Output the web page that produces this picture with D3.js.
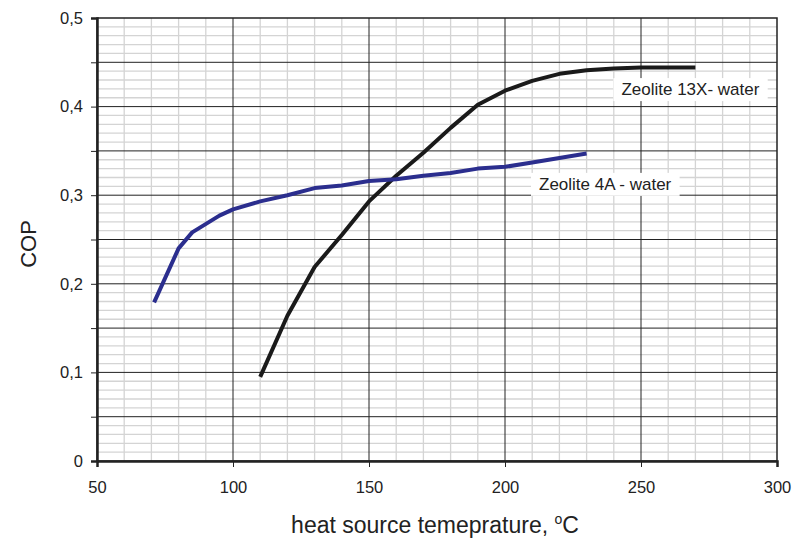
<!DOCTYPE html>
<html>
<head>
<meta charset="utf-8">
<script src="https://cdn.jsdelivr.net/npm/d3@7"></script>
<style>
  body { margin: 0; background: #fff; }
  text { font-family: "Liberation Sans", Arial, sans-serif; fill: #222; }
</style>
</head>
<body>
<svg id="chart" width="792" height="539"></svg>
<script>
// data
const temp13X = [110, 120, 130, 140, 150, 160, 170, 180, 190, 200, 210, 220, 230, 240, 250, 260, 270];
const cop13X  = [0.095, 0.164, 0.219, 0.255, 0.293, 0.322, 0.348, 0.376, 0.402, 0.418, 0.429, 0.437, 0.441, 0.443, 0.444, 0.444, 0.444];
const temp4A  = [71, 80, 85, 95, 100, 110, 120, 130, 140, 150, 160, 170, 180, 190, 200, 210, 220, 230];
const cop4A   = [0.179, 0.240, 0.258, 0.277, 0.284, 0.293, 0.300, 0.308, 0.311, 0.316, 0.318, 0.322, 0.325, 0.330, 0.332, 0.337, 0.342, 0.347];
const xTicks = [50, 100, 150, 200, 250, 300];
const yTicks = [0, 0.1, 0.2, 0.3, 0.4, 0.5];

const svg = d3.select("#chart");
const margin = {left: 97, top: 18, right: 15, bottom: 78};
const width = 792 - margin.left - margin.right;
const height = 539 - margin.top - margin.bottom;

const x = d3.scaleLinear().domain([50, 300]).range([0, width]);
const y = d3.scaleLinear().domain([0, 0.5]).range([height, 0]);

const g = svg.append("g")
    .attr("transform", "translate(" + margin.left + "," + margin.top + ")");

// minor grid
g.append("g").selectAll("line")
    .data(d3.range(60, 300, 10).filter(v => v % 50 !== 0))
    .enter().append("line")
    .attr("x1", d => x(d)).attr("x2", d => x(d))
    .attr("y1", 0).attr("y2", height)
    .attr("stroke", "#d4d4d4").attr("stroke-width", 1.3);
g.append("g").selectAll("line")
    .data(d3.range(1, 50).filter(v => v % 5 !== 0).map(v => v / 100))
    .enter().append("line")
    .attr("x1", 0).attr("x2", width)
    .attr("y1", d => y(d)).attr("y2", d => y(d))
    .attr("stroke", "#d4d4d4").attr("stroke-width", 1.3);

// major grid
g.append("g").selectAll("line")
    .data([100, 150, 200, 250])
    .enter().append("line")
    .attr("x1", d => x(d)).attr("x2", d => x(d))
    .attr("y1", 0).attr("y2", height)
    .attr("stroke", "#222").attr("stroke-width", 1);
g.append("g").selectAll("line")
    .data(d3.range(1, 10).map(v => v * 0.05))
    .enter().append("line")
    .attr("x1", 0).attr("x2", width)
    .attr("y1", d => y(d)).attr("y2", d => y(d))
    .attr("stroke", "#222").attr("stroke-width", 1);

// frame
g.append("rect")
    .attr("x", 0).attr("y", 0).attr("width", width).attr("height", height)
    .attr("fill", "none").attr("stroke", "#222").attr("stroke-width", 1.5);

// axes
const xAxis = g.append("g")
    .attr("transform", "translate(0," + height + ")")
    .call(d3.axisBottom(x).tickValues(xTicks).tickSize(6).tickPadding(14).tickFormat(d3.format("d")));
const yAxis = g.append("g")
    .call(d3.axisLeft(y).tickValues(d3.range(0, 11).map(v => v * 0.05)).tickSize(6).tickPadding(8)
        .tickFormat(d => yTicks.some(t => Math.abs(t - d) < 1e-9) ? (d === 0 ? "0" : d3.format(".1f")(d).replace(".", ",")) : ""));
[xAxis, yAxis].forEach(a => {
    a.select(".domain").attr("stroke", "#222").attr("stroke-width", 2.5);
    a.selectAll(".tick line").attr("stroke", "#222");
    a.selectAll(".tick text").style("font-size", "16.5px").attr("fill", "#222")
        .style("font-family", "'Liberation Sans', Arial, sans-serif");
});

// lines
const line = d3.line().x(d => x(d[0])).y(d => y(d[1]));
g.append("path")
    .datum(temp13X.map((t, i) => [t, cop13X[i]]))
    .attr("d", line).attr("fill", "none")
    .attr("stroke", "#1a1a1a").attr("stroke-width", 4).attr("stroke-linejoin", "round");
g.append("path")
    .datum(temp4A.map((t, i) => [t, cop4A[i]]))
    .attr("d", line).attr("fill", "none")
    .attr("stroke", "#2b2e8e").attr("stroke-width", 4).attr("stroke-linejoin", "round");

// labels with white boxes
function label(text, tx, ty) {
    const lg = g.append("g");
    const t = lg.append("text").attr("x", x(tx)).attr("y", y(ty))
        .style("font-size", "17px").text(text);
    const b = t.node().getBBox();
    lg.insert("rect", "text")
        .attr("x", b.x - 8).attr("y", b.y - 2)
        .attr("width", b.width + 16).attr("height", b.height + 4)
        .attr("fill", "#fff");
}
label("Zeolite 13X- water", 242.8, 0.413);
label("Zeolite 4A - water", 212.5, 0.306);

// axis titles
const xl = svg.append("text")
    .attr("x", margin.left + width / 2 - 2).attr("y", 533)
    .attr("text-anchor", "middle").style("font-size", "23px");
xl.append("tspan").text("heat source temeprature, ");
xl.append("tspan").attr("dy", -9).style("font-size", "14px").text("o");
xl.append("tspan").attr("dy", 9).text("C");

svg.append("text")
    .attr("transform", "translate(36,244) rotate(-90)")
    .attr("text-anchor", "middle").style("font-size", "22px").text("COP");
</script>
</body>
</html>
